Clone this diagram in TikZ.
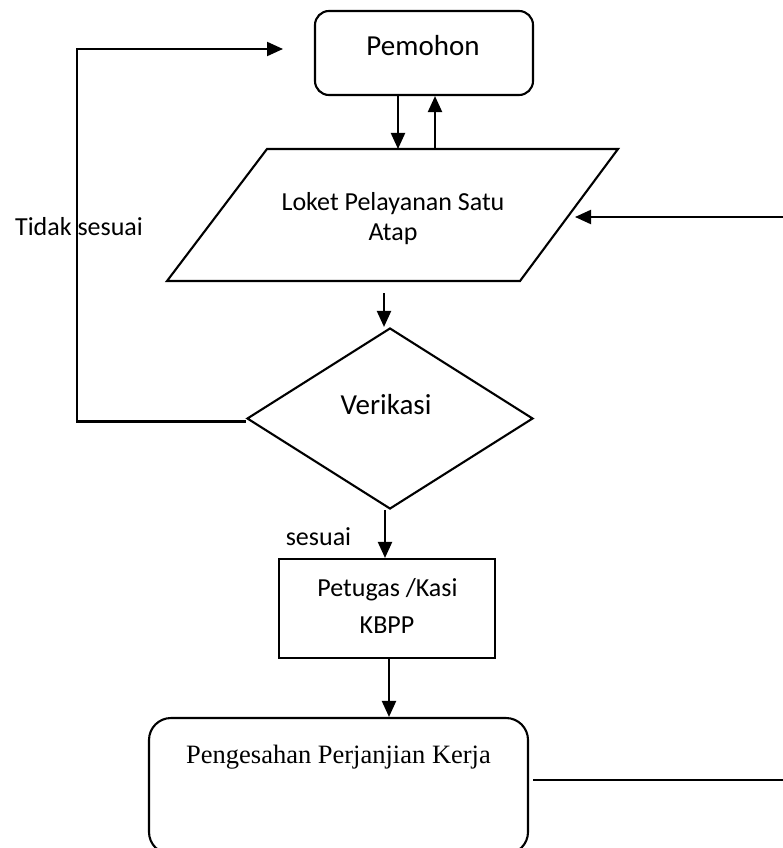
\documentclass[tikz,border=0pt]{standalone}
\usepackage{fontspec}
\newfontfamily\carlito{Carlito}
\newfontfamily\serifface{Liberation Serif}
\usetikzlibrary{shapes.geometric,arrows.meta}
\begin{document}
\begin{tikzpicture}[x=1pt,y=-1pt,
  line width=2.1pt,
  box/.style={draw,line width=2.1pt,inner sep=0pt},
  arr/.style={-{Triangle[length=16pt,width=14pt]}},
  lbl/.style={font=\carlito\fontsize{26}{30}\selectfont,inner sep=0pt,anchor=base},
  biglbl/.style={lbl,font=\carlito\fontsize{29}{32}\selectfont},
  serif/.style={font=\serifface\fontsize{26.5}{30}\selectfont,inner sep=0pt,anchor=base},
]
\useasboundingbox (0,0) rectangle (783,848);
\clip (0,0) rectangle (783,848);

% shapes
\node[box,rounded corners=14pt,minimum width=218pt,minimum height=84pt] (pem) at (424,53) {};
% parallelogram for the counter
\coordinate (lokTL) at (267,149);
\coordinate (lokTR) at (618,149);
\coordinate (lokBR) at (520,281);
\coordinate (lokBL) at (167,281);
\draw[line join=miter] (lokTL) -- (lokTR) -- (lokBR) -- (lokBL) -- cycle;
\node[box,diamond,minimum width=286pt,minimum height=181pt] (dia) at (390,418.5) {};
\node[box,minimum width=216pt,minimum height=99pt] (pet) at (387,608.5) {};
\node[box,rounded corners=22pt,minimum width=379pt,minimum height=136pt] (pen) at (338.5,786) {};

% texts
\node[biglbl] (pemT) at (423,56) {Pemohon};
\node[lbl] (lokT1) at (393,210) {Loket Pelayanan Satu};
\node[lbl] (lokT2) at (393,240) {Atap};
\node[biglbl] (diaT) at (386,414) {Verikasi};
\node[lbl] (petT1) at (387.5,596) {Petugas /Kasi};
\node[lbl] (petT2) at (387,633) {KBPP};
\node[serif] (penT) at (338.5,763) {Pengesahan Perjanjian Kerja};
\node[lbl] (tidak) at (79,235) {Tidak sesuai};
\node[lbl] (ses) at (318.5,545) {sesuai};

% free ends of connectors
\coordinate (rin) at (790,217);
\coordinate (rtip) at (575,217);
\coordinate (lokout) at (384,293);
\coordinate (ltip) at (283,49);
\coordinate (penout) at (790,780);
\coordinate (diaW) at ([yshift=-3pt]dia.west);

% connectors
\draw[arr] (398,0 |- pem.south) -- (398,0 |- lokTL);
\draw[arr] (435,0 |- lokTL) -- (435,0 |- pem.south);
\draw[arr] (rin) -- (rtip);
\draw[arr] (lokout) -- (384,0 |- dia.north);
\draw[arr] (385,0 |- dia.south) -- (385,0 |- pet.north);
\draw[arr] (389,0 |- pet.south) -- (389,0 |- pen.north);
\draw[arr] (diaW) -- (77,0 |- diaW) |- (ltip);
\draw ([xshift=4pt,yshift=6pt]pen.east) -- (penout);
\end{tikzpicture}
\end{document}
